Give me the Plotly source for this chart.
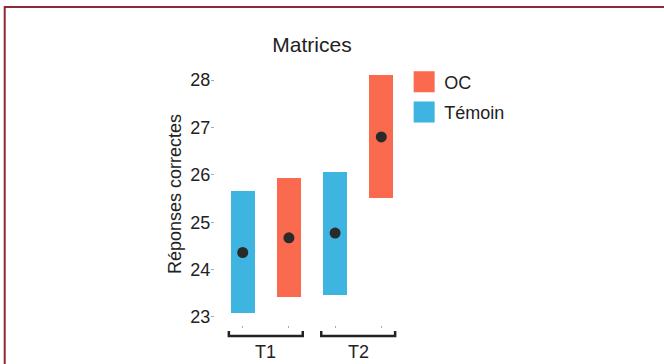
import plotly.graph_objects as go

# ---- data ----
groups = ["T1", "T2"]
conditions = ["Témoin", "OC"]
# per group, per condition: mean, lower, upper
temoin_mean = [24.36, 24.77]
temoin_low = [23.08, 23.46]
temoin_high = [25.65, 26.07]
oc_mean = [24.67, 26.80]
oc_low = [23.42, 25.52]
oc_high = [25.94, 28.11]
y_ticks = [23, 24, 25, 26, 27, 28]

colors = {"OC": "#F96A4F", "Témoin": "#3DB5E0"}
font = "Liberation Sans, Arial, sans-serif"

# positions: group g -> témoin at 2g+1, OC at 2g+2
pos_t = [2 * i + 1 for i in range(len(groups))]
pos_o = [2 * i + 2 for i in range(len(groups))]
bar_w = 0.52

fig = go.Figure()

series = [
    ("Témoin", pos_t, temoin_mean, temoin_low, temoin_high),
    ("OC", pos_o, oc_mean, oc_low, oc_high),
]
for name, pos, mean, low, high in series:
    fig.add_trace(go.Bar(
        x=pos, y=[h - l for h, l in zip(high, low)], base=low,
        width=bar_w, marker=dict(color=colors[name], line=dict(width=0)),
        showlegend=False, name=name,
    ))
for name, pos, mean, low, high in series:
    fig.add_trace(go.Scatter(
        x=pos, y=mean, mode="markers",
        marker=dict(color="#2a2a2a", size=11), showlegend=False,
    ))

# legend entries (OC first)
for name in ["OC", "Témoin"]:
    fig.add_trace(go.Scatter(
        x=[None], y=[None], mode="markers", name=name, legendgroup=name,
        marker=dict(symbol="square", size=16, color=colors[name],
                    line=dict(color=colors[name], width=5)),
    ))

# brackets and group labels
for i, g in enumerate(groups):
    x0 = pos_t[i] - 0.3
    x1 = pos_o[i] + 0.3
    fig.add_shape(type="path",
                  path=f"M {x0},-0.023 L {x0},-0.042 L {x1},-0.042 L {x1},-0.023",
                  xref="x", yref="paper", line=dict(color="#222222", width=2.5))
    fig.add_annotation(x=(pos_t[i] + pos_o[i]) / 2, y=-0.103, xref="x", yref="paper",
                       text=g, showarrow=False, font=dict(size=18, color="#222222"),
                       yanchor="middle")

# border around the whole figure
fig.add_shape(type="rect", xref="paper", yref="paper",
              x0=-1.084, y0=-0.17, x1=2.35, y1=1.214,
              line=dict(color="#8E2A35", width=2), fillcolor="rgba(0,0,0,0)")

fig.update_layout(
    width=664, height=364,
    margin=dict(l=215, r=255, t=63, b=39),
    paper_bgcolor="white", plot_bgcolor="white",
    font=dict(family=font, size=18, color="#222222"),
    title=dict(text="Matrices", x=0.5, xanchor="center", xref="paper",
               y=1 - 45 / 364, yref="container", yanchor="middle", font=dict(size=21)),
    showlegend=True,
    legend=dict(x=0.975, xanchor="left", y=0.998, yanchor="top",
                font=dict(size=18), tracegroupgap=4, itemsizing="trace",
                bgcolor="rgba(0,0,0,0)"),
    bargap=0,
)
fig.update_xaxes(range=[0.4, 4.6], tickvals=pos_t + pos_o, showticklabels=False,
                 ticks="outside", ticklen=2, tickcolor="#aaaaaa",
                 showgrid=False, zeroline=False, showline=False, fixedrange=True)
fig.update_yaxes(range=[22.83, 28.36], tickvals=y_ticks, ticks="outside", ticklen=3,
                 tickcolor="#aaaaaa", showgrid=False, zeroline=False, showline=False,
                 tickfont=dict(size=18), ticklabelstandoff=-3,
                 title=dict(text="Réponses correctes", font=dict(size=18), standoff=4))

fig.write_html("out.html", config={"displayModeBar": False},
               post_script="document.body.style.margin='0';")
